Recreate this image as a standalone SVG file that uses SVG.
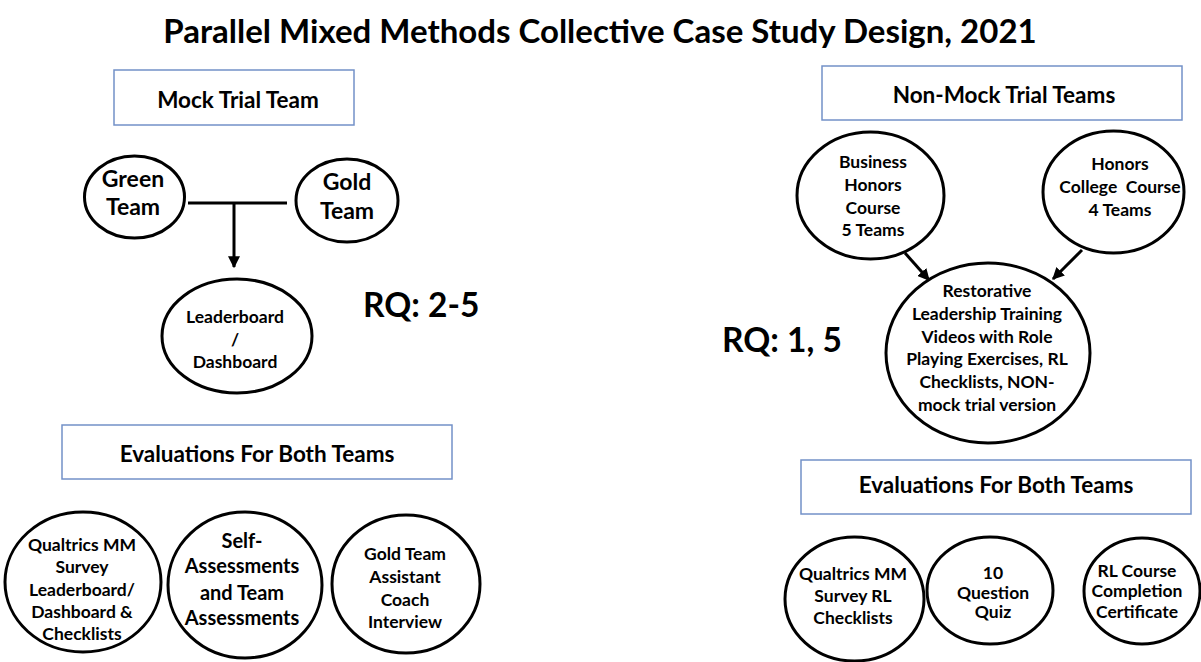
<svg xmlns="http://www.w3.org/2000/svg" width="1201" height="662" viewBox="0 0 1201 662">
<style>
text{font-family:Lato,"Liberation Sans",sans-serif;font-weight:bold;fill:#000;text-anchor:middle}
.t{font-size:33px}
.h{font-size:22.5px}
.rq{font-size:33.5px;text-anchor:start}
.n{font-size:17.5px}
.m{font-size:20px}
.g{font-size:23px}
.box{fill:#fff;stroke:#7391c8;stroke-width:1.5}
.el{fill:#fff;stroke:#000;stroke-width:3}
.ln{stroke:#000;stroke-width:3;fill:none}
</style>
<defs>
<marker id="ah" viewBox="0 0 10 10" refX="9" refY="5" markerWidth="4" markerHeight="4" orient="auto" markerUnits="strokeWidth">
<path d="M0,0 L10,5 L0,10 z" fill="#000"/>
</marker>
</defs>
<rect width="1201" height="662" fill="#fff"/>
<text class="t" x="600" y="43">Parallel Mixed Methods Collective Case Study Design, 2021</text>

<g id="connectors">
<line class="ln" x1="188" y1="203" x2="287" y2="203"/>
<line class="ln" x1="234" y1="203" x2="234" y2="267" marker-end="url(#ah)"/>
<line class="ln" x1="905" y1="253" x2="929" y2="280" marker-end="url(#ah)"/>
<line class="ln" x1="1082" y1="250" x2="1053" y2="279" marker-end="url(#ah)"/>
</g>

<g id="mock-trial-team">
<rect class="box" x="114" y="70" width="240" height="55"/>
<text class="h" x="238" y="108">Mock Trial Team</text>
</g>
<g id="green-team">
<ellipse class="el" cx="134.5" cy="197" rx="50" ry="41"/>
<text class="g" x="133" y="187">Green</text>
<text class="g" x="133" y="215">Team</text>
</g>
<g id="gold-team">
<ellipse class="el" cx="347" cy="200.5" rx="51" ry="41.5"/>
<text class="g" x="347" y="190">Gold</text>
<text class="g" x="347" y="219">Team</text>
</g>
<g id="leaderboard">
<ellipse class="el" cx="237" cy="336" rx="75" ry="57"/>
<text class="n" x="235" y="323">Leaderboard</text>
<text class="n" x="235" y="346">/</text>
<text class="n" x="235" y="368">Dashboard</text>
</g>
<g id="rq-left">
<text class="rq" x="363" y="317">RQ: 2-5</text>
</g>

<g id="eval-left">
<rect class="box" x="62" y="425" width="390" height="54"/>
<text class="h" x="257" y="462">Evaluations For Both Teams</text>
</g>
<g id="qualtrics-left">
<ellipse class="el" cx="83" cy="582" rx="78" ry="70"/>
<text class="n" x="82" y="551">Qualtrics MM</text>
<text class="n" x="82" y="573">Survey</text>
<text class="n" x="82" y="596">Leaderboard/</text>
<text class="n" x="82" y="618">Dashboard &amp;</text>
<text class="n" x="82" y="640">Checklists</text>
</g>
<g id="self-assessments">
<ellipse class="el" cx="245" cy="585" rx="77" ry="73"/>
<text class="m" x="242" y="548">Self-</text>
<text class="m" x="242" y="573">Assessments</text>
<text class="m" x="242" y="600">and Team</text>
<text class="m" x="242" y="625">Assessments</text>
</g>
<g id="coach-interview">
<ellipse class="el" cx="406" cy="584" rx="74" ry="69"/>
<text class="n" x="405" y="560">Gold Team</text>
<text class="n" x="405" y="583">Assistant</text>
<text class="n" x="405" y="606">Coach</text>
<text class="n" x="405" y="628">Interview</text>
</g>

<g id="non-mock-trial-teams">
<rect class="box" x="822" y="66" width="360" height="54"/>
<text class="h" x="1004" y="103">Non-Mock Trial Teams</text>
</g>
<g id="business-honors">
<ellipse class="el" cx="870.5" cy="195.5" rx="73.5" ry="63.5"/>
<text class="n" x="873" y="168">Business</text>
<text class="n" x="873" y="191">Honors</text>
<text class="n" x="873" y="214">Course</text>
<text class="n" x="873" y="236">5 Teams</text>
</g>
<g id="honors-college">
<ellipse class="el" cx="1113.5" cy="192" rx="70.5" ry="61"/>
<text class="n" x="1120" y="170">Honors</text>
<text class="n" x="1120" y="193" xml:space="preserve">College  Course</text>
<text class="n" x="1120" y="216">4 Teams</text>
</g>
<g id="restorative">
<ellipse class="el" cx="988" cy="353" rx="102" ry="90"/>
<text class="n" x="987" y="297">Restorative</text>
<text class="n" x="987" y="320">Leadership Training</text>
<text class="n" x="987" y="343">Videos with Role</text>
<text class="n" x="987" y="365">Playing Exercises, RL</text>
<text class="n" x="987" y="388">Checklists, NON-</text>
<text class="n" x="987" y="411">mock trial version</text>
</g>
<g id="rq-right">
<text class="rq" x="722" y="352">RQ: 1, 5</text>
</g>

<g id="eval-right">
<rect class="box" x="801" y="460" width="390" height="54"/>
<text class="h" x="996" y="493">Evaluations For Both Teams</text>
</g>
<g id="qualtrics-right">
<ellipse class="el" cx="854.5" cy="599" rx="69.5" ry="62"/>
<text class="n" x="853" y="580">Qualtrics MM</text>
<text class="n" x="853" y="602">Survey RL</text>
<text class="n" x="853" y="624">Checklists</text>
</g>
<g id="quiz">
<ellipse class="el" cx="990" cy="590.5" rx="63" ry="53.5"/>
<text class="n" x="993" y="579">10</text>
<text class="n" x="993" y="599">Question</text>
<text class="n" x="993" y="618">Quiz</text>
</g>
<g id="certificate">
<ellipse class="el" cx="1142" cy="591" rx="58" ry="53"/>
<text class="n" x="1137" y="577">RL Course</text>
<text class="n" x="1137" y="597">Completion</text>
<text class="n" x="1137" y="618">Certificate</text>
</g>
</svg>
